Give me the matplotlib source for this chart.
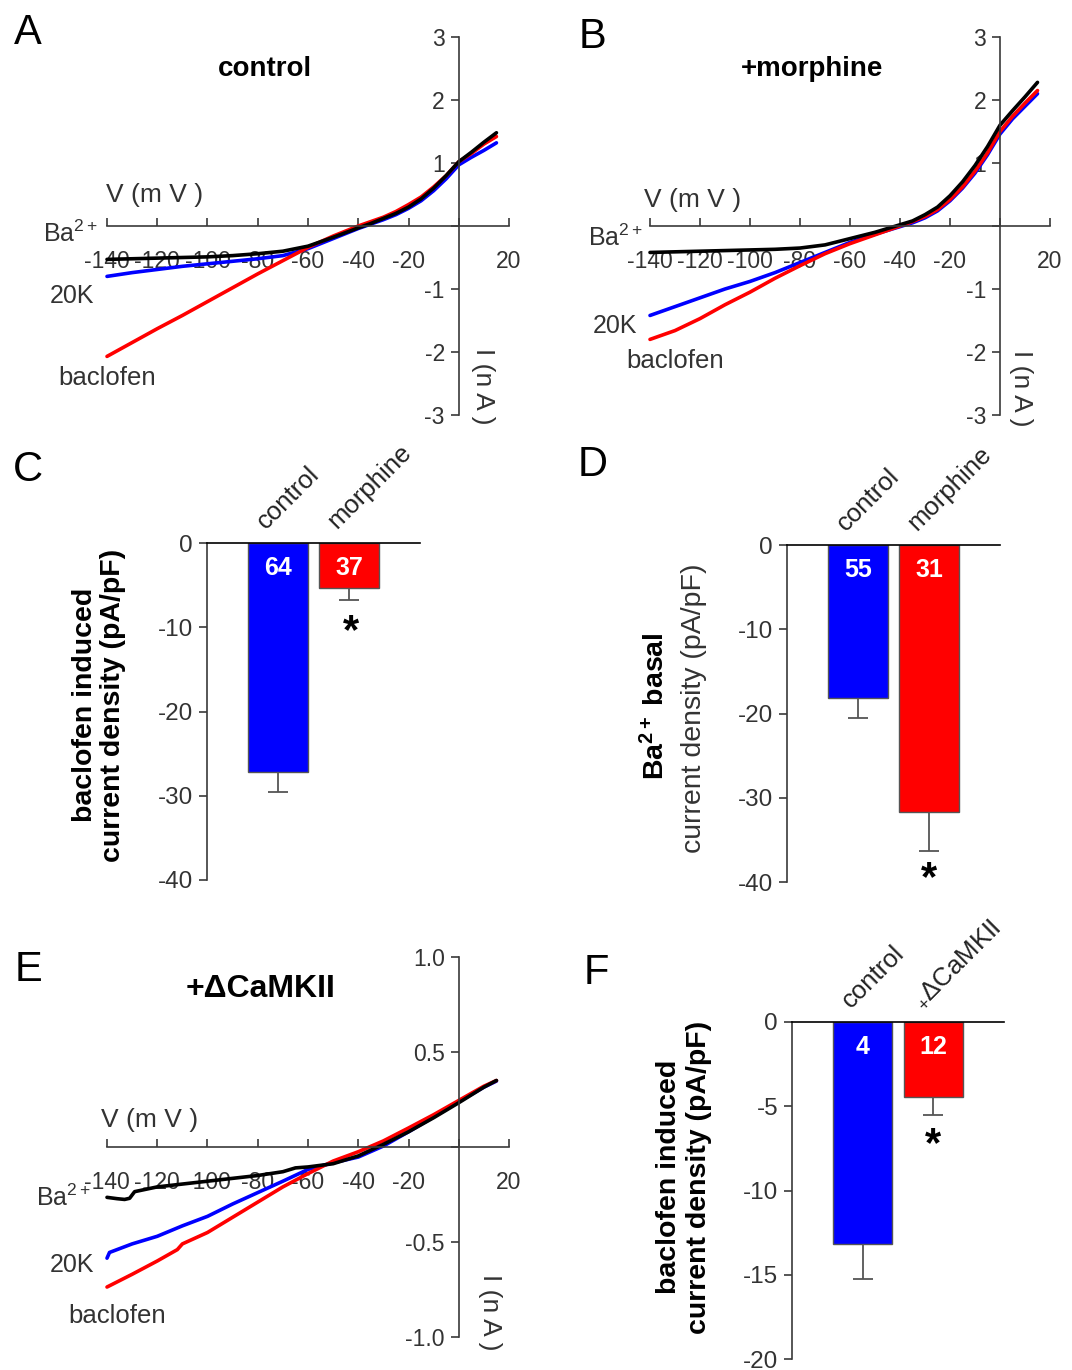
import matplotlib.pyplot as plt
import numpy as np

plt.rcParams['font.family'] = ['Liberation Sans', 'DejaVu Sans']
plt.rcParams['mathtext.fontset'] = 'custom'
plt.rcParams['mathtext.rm'] = 'Liberation Sans'
plt.rcParams['mathtext.it'] = 'Liberation Sans'
plt.rcParams['mathtext.bf'] = 'Liberation Sans:bold'
plt.rcParams['mathtext.default'] = 'regular'
plt.rcParams['axes.unicode_minus'] = False

W, H = 1072, 1370
BLUE = '#0000ff'
RED = '#ff0000'
GREY = '#3a3a3a'
TXT = '#333333'

# ---- I-V data (mV, nA) ----
volt = [-140, -130, -120, -110, -100, -90, -80, -70, -60, -50, -40, -35, -30, -25, -20, -15, -10, -5, 0, 5, 10, 15]

a_ba = [-0.53, -0.52, -0.51, -0.50, -0.49, -0.47, -0.44, -0.40, -0.32, -0.18, -0.03, 0.04, 0.12, 0.20, 0.30, 0.43, 0.60, 0.80, 1.02, 1.17, 1.33, 1.48]
a_20k = [-0.80, -0.74, -0.69, -0.64, -0.60, -0.56, -0.52, -0.47, -0.36, -0.20, -0.04, 0.03, 0.10, 0.18, 0.28, 0.40, 0.56, 0.75, 0.97, 1.09, 1.20, 1.32]
a_bac = [-2.07, -1.85, -1.63, -1.42, -1.20, -0.98, -0.76, -0.55, -0.34, -0.16, 0.00, 0.07, 0.14, 0.23, 0.34, 0.46, 0.62, 0.80, 1.02, 1.15, 1.30, 1.42]

b_ba = [-0.42, -0.41, -0.40, -0.39, -0.38, -0.37, -0.35, -0.30, -0.20, -0.10, 0.02, 0.08, 0.18, 0.30, 0.48, 0.70, 0.96, 1.26, 1.60, 1.83, 2.05, 2.28]
b_20k = [-1.42, -1.28, -1.14, -1.00, -0.88, -0.74, -0.58, -0.42, -0.26, -0.13, -0.01, 0.05, 0.13, 0.24, 0.40, 0.60, 0.84, 1.13, 1.46, 1.70, 1.90, 2.10]
b_bac = [-1.80, -1.66, -1.47, -1.25, -1.05, -0.83, -0.63, -0.44, -0.28, -0.14, 0.00, 0.07, 0.15, 0.26, 0.42, 0.62, 0.87, 1.16, 1.50, 1.74, 1.95, 2.15]

e_v_ba = [-140, -136, -133, -131, -129, -120, -110, -100, -90, -80, -70, -65, -60, -50, -40, -30, -20, -10, 0, 10, 15]
e_ba = [-0.265, -0.272, -0.276, -0.27, -0.235, -0.21, -0.195, -0.18, -0.165, -0.15, -0.13, -0.11, -0.105, -0.088, -0.047, 0.014, 0.08, 0.154, 0.233, 0.315, 0.35]
e_v_20k = [-140, -139, -135, -130, -120, -110, -100, -90, -80, -70, -60, -50, -40, -30, -20, -10, 0, 10, 15]
e_20k = [-0.585, -0.555, -0.535, -0.51, -0.47, -0.415, -0.365, -0.30, -0.24, -0.18, -0.118, -0.083, -0.053, 0.005, 0.08, 0.158, 0.238, 0.315, 0.347]
e_v_bac = [-140, -130, -120, -112, -110, -100, -90, -80, -70, -60, -50, -40, -30, -20, -10, 0, 10, 15]
e_bac = [-0.737, -0.67, -0.60, -0.54, -0.51, -0.45, -0.37, -0.29, -0.21, -0.14, -0.074, -0.025, 0.032, 0.10, 0.17, 0.245, 0.32, 0.35]

v_ticks = [-140, -120, -100, -80, -60, -40, -20, 0, 20]
v_ticklabels = ['-140', '-120', '-100', '-80', '-60', '-40', '-20', '', '20']
i_ticks_ab = [-3, -2, -1, 0, 1, 2, 3]
i_ticklabels_ab = ['-3', '-2', '-1', '', '1', '2', '3']
i_ticks_e = [-1.0, -0.5, 0, 0.5, 1.0]
i_ticklabels_e = ['-1.0', '-0.5', '', '0.5', '1.0']

# ---- bar data ----
groups_cd = ['control', 'morphine']
groups_f = ['control', r'$_{+}$ΔCaMKII']
c_mean = [-27.2, -5.3]
c_sem = [2.3, 1.5]
c_n = ['64', '37']
d_mean = [-18.2, -31.7]
d_sem = [2.3, 4.6]
d_n = ['55', '31']
f_mean = [-13.2, -4.43]
f_sem = [2.05, 1.1]
f_n = ['4', '12']

fig = plt.figure(figsize=(W / 100, H / 100), dpi=100, facecolor='white')


def px_axes(x0, x1, ytop, ybot):
    return fig.add_axes([x0 / W, 1 - ybot / H, (x1 - x0) / W, (ybot - ytop) / H])


def iv_panel(ax, traces, ylim, yticks, yticklabels):
    ax.set_xlim(-140, 20)
    ax.set_ylim(*ylim)
    ax.patch.set_alpha(0)
    for v, i, c in traces:
        ax.plot(v, i, color=c, lw=2.6, solid_capstyle='round', clip_on=False)
    for s in ['top', 'right']:
        ax.spines[s].set_visible(False)
    ax.spines['left'].set_position(('data', 0))
    ax.spines['bottom'].set_position(('data', 0))
    for s in ['left', 'bottom']:
        ax.spines[s].set_color(GREY)
        ax.spines[s].set_linewidth(1.2)
    ax.set_xticks(v_ticks)
    ax.set_xticklabels(v_ticklabels)
    ax.set_yticks(yticks)
    ax.set_yticklabels(yticklabels)
    ax.tick_params(axis='x', direction='in', length=6, width=1.2, color=GREY,
                   labelsize=16.5, labelcolor=TXT, pad=17)
    ax.tick_params(axis='y', direction='out', length=6, width=1.2, color=GREY,
                   labelsize=16.5, labelcolor=TXT, pad=4)


def bar_panel(ax, means, sems, ns, groups, ylim, yticks):
    x = [1, 2]
    ax.set_xlim(0, 3)
    ax.set_ylim(*ylim)
    ax.patch.set_alpha(0)
    ax.bar(x, means, width=0.84, color=[BLUE, RED], edgecolor='#555555', linewidth=1.0, zorder=2)
    ax.errorbar(x, means, yerr=[sems, [0, 0]], fmt='none', ecolor='#555555',
                elinewidth=1.3, capsize=7, capthick=1.3, zorder=1)
    for s in ['bottom', 'right']:
        ax.spines[s].set_visible(False)
    ax.spines['top'].set_color('black')
    ax.spines['top'].set_linewidth(1.2)
    ax.spines['left'].set_color(GREY)
    ax.spines['left'].set_linewidth(1.2)
    ax.set_xticks([])
    ax.set_yticks(yticks)
    ax.tick_params(axis='y', direction='out', length=6, width=1.2, color=GREY,
                   labelsize=17.5, labelcolor=TXT, pad=4)
    for xi, n in zip(x, ns):
        ax.text(xi, ylim[0] * 0.074, n, color='white', fontsize=18, fontweight='bold',
                ha='center', va='center')
    for xi, g in zip(x, groups):
        ax.annotate(g, xy=(xi, 0), xytext=(-6, 7), textcoords='offset points',
                    rotation=45, ha='left', va='bottom', rotation_mode='anchor',
                    fontsize=18.5, color='#222222', annotation_clip=False)


# ---- A ----
axA = px_axes(107, 509, 37, 415)
iv_panel(axA, [(volt, a_20k, BLUE), (volt, a_bac, RED), (volt, a_ba, 'black')],
         (-3, 3), i_ticks_ab, i_ticklabels_ab)
axA.text(-143.5, -0.13, r'Ba$^{2+}$', ha='right', va='center', fontsize=18, color=TXT)
axA.text(-154, -1.11, '20K', ha='center', va='center', fontsize=18, color=TXT)
axA.text(-140, -2.41, 'baclofen', ha='center', va='center', fontsize=18.5, color=TXT)
axA.text(-121, 0.49, 'V (m V )', ha='center', va='center', fontsize=19, color=TXT)
axA.text(-77, 2.5, 'control', ha='center', va='center', fontsize=20, fontweight='bold')
axA.text(9.5, -2.55, 'I (n A )', ha='center', va='center', fontsize=19, rotation=270, color=TXT)

# ---- B ----
axB = px_axes(650, 1050, 37, 415)
iv_panel(axB, [(volt, b_20k, BLUE), (volt, b_bac, RED), (volt, b_ba, 'black')],
         (-3, 3), i_ticks_ab, i_ticklabels_ab)
axB.text(-143, -0.18, r'Ba$^{2+}$', ha='right', va='center', fontsize=18, color=TXT)
axB.text(-154, -1.59, '20K', ha='center', va='center', fontsize=18, color=TXT)
axB.text(-130, -2.14, 'baclofen', ha='center', va='center', fontsize=18.5, color=TXT)
axB.text(-123, 0.41, 'V (m V )', ha='center', va='center', fontsize=19, color=TXT)
axB.text(-75, 2.5, '+morphine', ha='center', va='center', fontsize=20, fontweight='bold')
axB.text(8.5, -2.58, 'I (n A )', ha='center', va='center', fontsize=19, rotation=270, color=TXT)

# ---- E ----
axE = px_axes(107, 509, 957, 1337)
iv_panel(axE, [(e_v_20k, e_20k, BLUE), (e_v_bac, e_bac, RED), (e_v_ba, e_ba, 'black')],
         (-1, 1), i_ticks_e, i_ticklabels_e)
axE.text(-146.5, -0.27, r'Ba$^{2+}$', ha='right', va='center', fontsize=18, color=TXT)
axE.text(-154, -0.62, '20K', ha='center', va='center', fontsize=18, color=TXT)
axE.text(-136, -0.89, 'baclofen', ha='center', va='center', fontsize=18.5, color=TXT)
axE.text(-123, 0.14, 'V (m V )', ha='center', va='center', fontsize=19, color=TXT)
axE.text(-79, 0.83, '+ΔCaMKII', ha='center', va='center', fontsize=23, fontweight='bold')
axE.text(12.5, -0.87, 'I (n A )', ha='center', va='center', fontsize=19, rotation=270, color=TXT)

# ---- C ----
axC = px_axes(207, 420, 543, 880)
bar_panel(axC, c_mean, c_sem, c_n, groups_cd, (-40, 0), [-40, -30, -20, -10, 0])
axC.text(2.03, -10.6, '*', ha='center', va='center', fontsize=30, fontweight='bold')
fig.text(99 / W, 1 - 705 / H, 'baclofen induced\ncurrent density (pA/pF)', rotation=90,
         ha='center', va='center', multialignment='center', fontsize=20.5,
         fontweight='bold', linespacing=1.15)

# ---- D ----
axD = px_axes(787, 1000, 545, 882)
bar_panel(axD, d_mean, d_sem, d_n, groups_cd, (-40, 0), [-40, -30, -20, -10, 0])
axD.text(2.0, -39.6, '*', ha='center', va='center', fontsize=30, fontweight='bold')
fig.text(656 / W, 1 - 706 / H, r'Ba$^{2+}$ basal', rotation=90, ha='center', va='center',
         fontsize=20.5, fontweight='bold')
fig.text(694 / W, 1 - 708 / H, 'current density (pA/pF)', rotation=90, ha='center',
         va='center', fontsize=20.5, color=TXT)

# ---- F ----
axF = px_axes(792, 1004, 1022, 1359)
bar_panel(axF, f_mean, f_sem, f_n, groups_f, (-20, 0), [-20, -15, -10, -5, 0])
axF.text(2.0, -7.3, '*', ha='center', va='center', fontsize=30, fontweight='bold')
fig.text(684 / W, 1 - 1177 / H, 'baclofen induced\ncurrent density (pA/pF)', rotation=90,
         ha='center', va='center', multialignment='center', fontsize=20.5,
         fontweight='bold', linespacing=1.15)

# panel letters
for lab, (px, py) in zip('ABCDEF', [(28, 33), (593, 37), (28, 470), (593, 465), (28, 970), (596, 973)]):
    fig.text(px / W, 1 - py / H, lab, ha='center', va='center', fontsize=30)

fig.savefig('out.png', dpi=100, facecolor='white')
